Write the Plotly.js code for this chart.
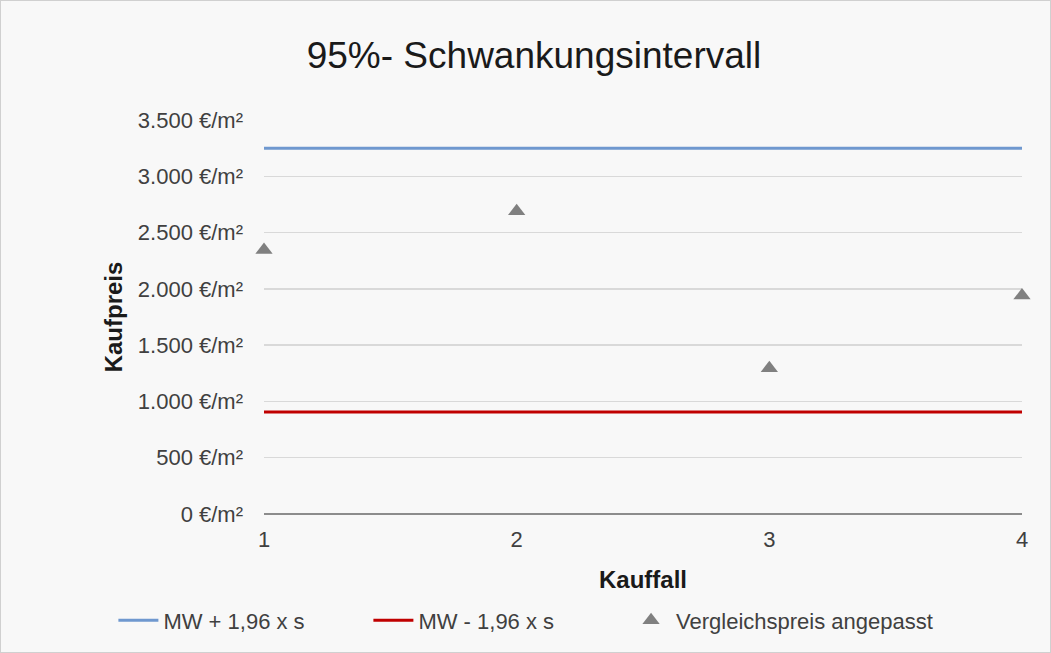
<!DOCTYPE html>
<html>
<head>
<meta charset="utf-8">
<script src="https://cdn.plot.ly/plotly-3.0.1.min.js"></script>
<style>
html,body{margin:0;padding:0;background:#ffffff;}
#chart{width:1051px;height:653px;box-sizing:border-box;border:1px solid #d0d0d0;}
</style>
</head>
<body>
<div id="chart"></div>
<script>
const kauffall = [1, 2, 3, 4];
const upperBound = [3250, 3250, 3250, 3250];
const lowerBound = [905, 905, 905, 905];
const vergleichspreis = [2345, 2690, 1295, 1940];
const yTickVals = [0, 500, 1000, 1500, 2000, 2500, 3000, 3500];
const yTickText = ["0 €/m²", "500 €/m²", "1.000 €/m²", "1.500 €/m²", "2.000 €/m²", "2.500 €/m²", "3.000 €/m²", "3.500 €/m²"];
const seriesNames = ["MW + 1,96 x s", "MW - 1,96 x s", "Vergleichspreis angepasst"];

const font = "Liberation Sans, Arial, sans-serif";

const traces = [
  {x: kauffall, y: upperBound, name: seriesNames[0], mode: 'lines', type: 'scatter',
   line: {color: '#6f98cf', width: 3}, legend: 'legend'},
  {x: kauffall, y: lowerBound, name: seriesNames[1], mode: 'lines', type: 'scatter',
   line: {color: '#c00000', width: 3}, legend: 'legend'},
  {x: kauffall, y: vergleichspreis, name: seriesNames[2], mode: 'markers', type: 'scatter',
   marker: {symbol: 'triangle-up', size: 15, color: '#808080'}, cliponaxis: false, legend: 'legend2'}
];

const W = 1051, H = 653;
const L = 263, R = 28, T = 119, B = 137;
const plotW = W - L - R, plotH = H - T - B;
const legendY = -(622 - (H - B)) / plotH;

const legendCommon = {
  orientation: 'h', xanchor: 'left', y: legendY, yanchor: 'middle',
  font: {family: font, size: 22, color: '#404040'}, bgcolor: 'rgba(0,0,0,0)',
  itemwidth: 40, tracegroupgap: 0
};

const layout = {
  width: W - 2, height: H - 2,
  paper_bgcolor: '#f8f8f8', plot_bgcolor: '#f8f8f8',
  margin: {l: L, r: R, t: T, b: B, pad: 0},
  font: {family: font, color: '#404040', size: 22},
  title: {text: '95%- Schwankungsintervall', x: 534 / W, xref: 'container', xanchor: 'center',
          y: 1 - 54 / H, yref: 'container', yanchor: 'middle',
          font: {family: font, size: 37, color: '#1a1a1a'}},
  showlegend: true,
  legend: Object.assign({}, legendCommon, {x: (112 - L) / plotW, entrywidth: 200, entrywidthmode: 'pixels'}),
  legend2: Object.assign({}, legendCommon, {x: (626 - L) / plotW}),
  xaxis: {range: [1, 4], tickvals: kauffall, ticktext: kauffall.map(String),
          showgrid: false, zeroline: false, showline: false, ticks: '',
          ticklabelstandoff: 10, tickfont: {size: 22, color: '#404040'},
          title: {text: '<b>Kauffall</b>', font: {size: 24, color: '#1a1a1a'}, standoff: 20},
          fixedrange: true},
  yaxis: {range: [0, 3500], tickvals: yTickVals, ticktext: yTickText,
          showgrid: true, gridcolor: '#d9d9d9', gridwidth: 1.5,
          zeroline: true, zerolinecolor: '#8c8c8c', zerolinewidth: 1.5,
          showline: false, ticks: '', ticklabelstandoff: 20,
          tickfont: {size: 22, color: '#404040'},
          title: {text: '<b>Kaufpreis</b>', font: {size: 24, color: '#1a1a1a'}, standoff: 8},
          fixedrange: true}
};

Plotly.newPlot('chart', traces, layout, {displayModeBar: false, staticPlot: true});
</script>
</body>
</html>
